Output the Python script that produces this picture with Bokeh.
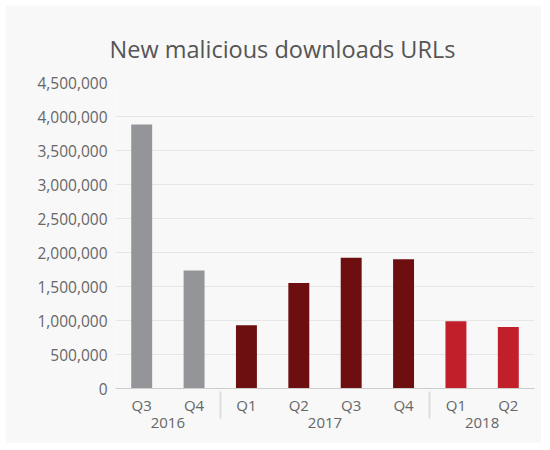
from bokeh.plotting import figure
from bokeh.models import FactorRange, ColumnDataSource, NumeralTickFormatter, SingleIntervalTicker, Range1d, Spacer
from bokeh.layouts import column, row
from bokeh.transform import factor_cmap
from bokeh.embed import file_html
from bokeh.resources import INLINE

years = ["2016", "2016", "2017", "2017", "2017", "2017", "2018", "2018"]
quarters = ["Q3", "Q4", "Q1", "Q2", "Q3", "Q4", "Q1", "Q2"]
urls = [3884000, 1736000, 929000, 1553000, 1923000, 1902000, 988000, 904000]
year_list = ["2016", "2017", "2018"]
year_colors = ["#939598", "#6d0f10", "#c1202b"]

x = list(zip(years, quarters))
src = ColumnDataSource(dict(x=x, y=urls))

FONT = "Open Sans"
p = figure(x_range=FactorRange(*x, factor_padding=0, group_padding=0, range_padding=0),
           y_range=Range1d(0, 4500000),
           width=536, height=438, output_backend="svg", toolbar_location=None,
           title="New malicious downloads URLs",
           min_border_left=110, min_border_right=7, min_border_top=77, min_border_bottom=55)
p.vbar(x="x", top="y", width=0.4, source=src, line_color=None,
       fill_color=factor_cmap("x", palette=year_colors, factors=year_list, end=1))

p.background_fill_color = "#f8f8f8"
p.border_fill_color = "#f8f8f8"
p.outline_line_color = None

p.title.align = "left"
p.title.offset = -6
p.title.text_font = FONT
p.title.text_font_size = "23.5px"
p.title.text_font_style = "normal"
p.title.text_color = "#555555"
p.title.standoff = 36

p.yaxis.ticker = SingleIntervalTicker(interval=500000)
p.yaxis.formatter = NumeralTickFormatter(format="0,0")
p.yaxis.axis_line_color = None
p.yaxis.major_tick_line_color = None
p.yaxis.minor_tick_line_color = None
p.yaxis.major_label_text_font = FONT
p.yaxis.major_label_text_font_size = "15.5px"
p.yaxis.major_label_text_color = "#666666"
p.yaxis.major_label_standoff = 2

p.xaxis.axis_line_color = "#cccccc"
p.xaxis.major_tick_line_color = None
p.xaxis.minor_tick_line_color = None
p.xaxis.major_label_text_font = FONT
p.xaxis.major_label_text_font_size = "15px"
p.xaxis.major_label_text_color = "#666666"
p.xaxis.group_text_font = FONT
p.xaxis.group_text_font_size = "15px"
p.xaxis.group_text_font_style = "normal"
p.xaxis.group_text_color = "#666666"
p.xaxis.separator_line_color = "#dddddd"
p.xaxis.major_label_standoff = 0

p.xgrid.grid_line_color = None
p.ygrid.grid_line_color = "#e6e6e6"

layout = column(Spacer(height=5), row(Spacer(width=5), p))
open("out.html", "w").write(file_html(layout, INLINE))
